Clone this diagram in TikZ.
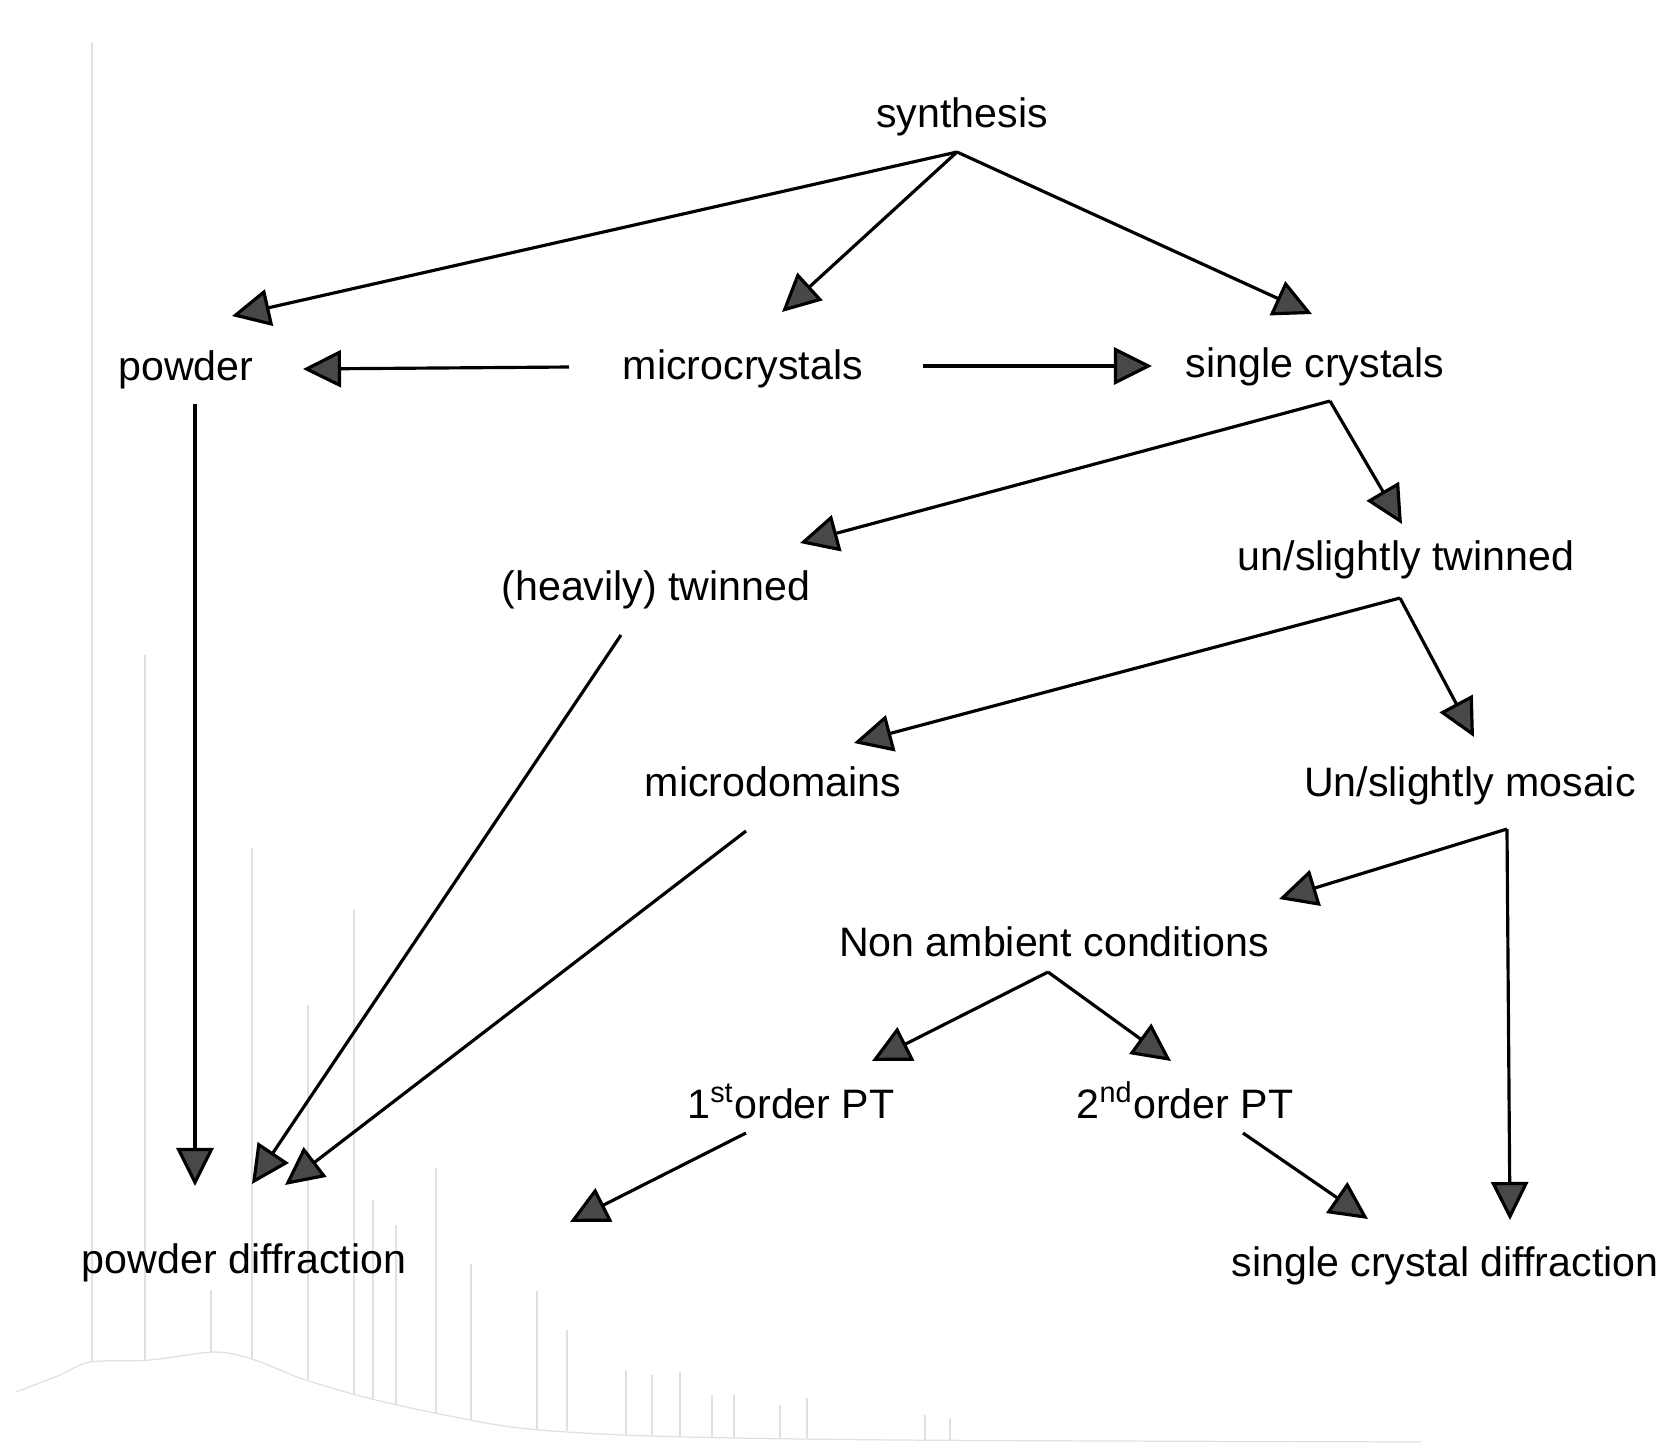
\documentclass[tikz,border=0pt]{standalone}
\usepackage{fontspec}
\setmainfont{Liberation Sans}
\usetikzlibrary{arrows.meta}
\definecolor{tipgray}{RGB}{72,72,72}
\begin{document}
\begin{tikzpicture}[x=0.01cm,y=-0.01cm,
  lbl/.style={anchor=base,inner sep=0pt,font=\fontsize{11.7}{14}\selectfont},
  conn/.style={line width=0.9pt,-{Triangle[length=3.8mm,width=3.7mm,fill=tipgray]}},
  bgspec/.style={gray!24,line width=0.35pt}]
\useasboundingbox (0,0) rectangle (1668,1447);
% faint powder pattern in the background
\draw[bgspec] plot[smooth] coordinates {(16,1392) (60,1375) (90,1362) (150,1360) (215,1352) (255,1360) (300,1378) (360,1396) (430,1412) (520,1428) (650,1436) (900,1440) (1421,1442)};
\foreach \px/\pb/\pt in {92/1362/43,145/1360/655,211/1353/1290,252/1360/848,308/1379/1005,354/1394/910,373/1399/1200,396/1405/1225,436/1414/1168,471/1420/1264,537/1429/1291,567/1431/1330,626/1434/1370,652/1435/1375,680/1436/1372,712/1437/1395,734/1437/1395,780/1438/1405,807/1438/1398,925/1440/1415,950/1440/1418}
  \draw[bgspec] (\px,\pb) -- (\px,\pt);
% labels
\node[lbl] (syn) at (962,127) {synthesis};
\node[lbl] (pow) at (186,380) {powder};
\node[lbl] (mic) at (743,379) {microcrystals};
\node[lbl] (sc) at (1315,377) {single crystals};
\node[lbl] (ht) at (656,600) {(heavily) twinned};
\node[lbl] (ut) at (1406,570) {un/slightly twinned};
\node[lbl] (md) at (773,796) {microdomains};
\node[lbl] (um) at (1470,796) {Un/slightly mosaic};
\node[lbl] (na) at (1054,956) {Non ambient conditions};
\node[lbl] (p1) at (791,1118) {1\textsuperscript{st}order PT};
\node[lbl] (p2) at (1185,1118) {2\textsuperscript{nd}order PT};
\node[lbl] (pd) at (244,1273) {powder diffraction};
\node[lbl] (sd) at (1445,1276) {single crystal diffraction};
% connector end points
\coordinate (syn-o) at (957,152);
\coordinate (pow-i) at (232,316);
\coordinate (mic-i) at (782,312);
\coordinate (sc-i) at (1312,314);
\coordinate (mic-l) at (569,367);
\coordinate (pow-r) at (303,369);
\coordinate (mic-r) at (923,366);
\coordinate (sc-l) at (1152,366);
\coordinate (pow-o) at (195,404);
\coordinate (pd-a) at (195,1186);
\coordinate (sc-o) at (1330,401);
\coordinate (ht-i) at (800,543);
\coordinate (ut-i) at (1402,524);
\coordinate (ht-o) at (621,635);
\coordinate (pd-b) at (252,1184);
\coordinate (ut-o) at (1400,598);
\coordinate (md-i) at (854,743);
\coordinate (um-i) at (1474,737);
\coordinate (md-o) at (746,831);
\coordinate (pd-c) at (285,1185);
\coordinate (um-o) at (1507,829);
\coordinate (na-i) at (1279,899);
\coordinate (sd-a) at (1510,1220);
\coordinate (na-o) at (1048,972);
\coordinate (p1-i) at (872,1061);
\coordinate (p2-i) at (1171,1061);
\coordinate (p1-o) at (746,1133);
\coordinate (p1-end) at (570,1222);
\coordinate (p2-o) at (1243,1133);
\coordinate (sd-b) at (1368,1219);
% connectors
\draw[conn] (syn-o) -- (pow-i);
\draw[conn] (syn-o) -- (mic-i);
\draw[conn] (syn-o) -- (sc-i);
\draw[conn] (mic-l) -- (pow-r);
\draw[conn] (mic-r) -- (sc-l);
\draw[conn] (pow-o) -- (pd-a);
\draw[conn] (sc-o) -- (ht-i);
\draw[conn] (sc-o) -- (ut-i);
\draw[conn] (ht-o) -- (pd-b);
\draw[conn] (ut-o) -- (md-i);
\draw[conn] (ut-o) -- (um-i);
\draw[conn] (md-o) -- (pd-c);
\draw[conn] (um-o) -- (na-i);
\draw[conn] (um-o) -- (sd-a);
\draw[conn] (na-o) -- (p1-i);
\draw[conn] (na-o) -- (p2-i);
\draw[conn] (p1-o) -- (p1-end);
\draw[conn] (p2-o) -- (sd-b);
\end{tikzpicture}
\end{document}
